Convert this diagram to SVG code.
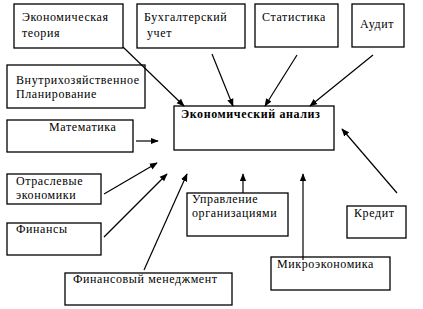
<svg xmlns="http://www.w3.org/2000/svg" width="423" height="309" viewBox="0 0 423 309" font-family="'Liberation Serif', 'DejaVu Serif', serif">
<style>
rect{fill:#fff;stroke:#000;stroke-width:1.3}
text{font-size:12px;fill:#000;letter-spacing:0.6px}
.b{font-weight:bold}
#connectors line{stroke:#000;stroke-width:1.2;marker-end:url(#ah)}
</style>
<defs>
<marker id="ah" viewBox="0 0 10 10" refX="9" refY="5" markerWidth="8" markerHeight="8" markerUnits="userSpaceOnUse" orient="auto">
<path d="M0,1 L10,5 L0,9 Z" fill="#000"/>
</marker>
</defs>
<rect x="0" y="0" width="423" height="309" style="stroke:none"/>
<g id="n-teoria"><rect x="14" y="4" width="109" height="44"/><text x="22" y="21">Экономическая</text><text x="22" y="37">теория</text></g>
<g id="n-buh"><rect x="137" y="4" width="108" height="44"/><text x="144" y="21">Бухгалтерский</text><text x="147" y="37">учет</text></g>
<g id="n-stat"><rect x="255" y="4" width="83" height="43"/><text x="262" y="21">Статистика</text></g>
<g id="n-audit"><rect x="352" y="4" width="52" height="43"/><text x="360" y="28">Аудит</text></g>
<g id="n-plan"><rect x="7" y="65" width="138" height="43"/><text x="16" y="84">Внутрихозяйственное</text><text x="16" y="98">Планирование</text></g>
<g id="n-analiz"><rect x="174" y="106" width="160" height="44"/><text class="b" x="181" y="118">Экономический анализ</text></g>
<g id="n-mat"><rect x="7" y="120" width="126" height="32"/><text x="49" y="131">Математика</text></g>
<g id="n-otr"><rect x="7" y="174" width="94" height="30"/><text x="16" y="185">Отраслевые</text><text x="16" y="199">экономики</text></g>
<g id="n-fin"><rect x="7" y="223" width="94" height="32"/><text x="16" y="233">Финансы</text></g>
<g id="n-finmen"><rect x="65" y="273" width="167" height="32"/><text x="73" y="283">Финансовый менеджмент</text></g>
<g id="n-upr"><rect x="187" y="193" width="101" height="43"/><text x="192" y="203">Управление</text><text x="192" y="217">организациями</text></g>
<g id="n-kred"><rect x="347" y="206" width="59" height="32"/><text x="354" y="217">Кредит</text></g>
<g id="n-micro"><rect x="271" y="257" width="119" height="33"/><text x="277" y="268">Микроэкономика</text></g>
<g id="connectors">
<line x1="123" y1="47" x2="184" y2="106"/>
<line x1="212" y1="54" x2="233" y2="106"/>
<line x1="297" y1="55" x2="265" y2="106"/>
<line x1="373" y1="55" x2="310" y2="106"/>
<line x1="136" y1="141" x2="158" y2="141"/>
<line x1="104" y1="194" x2="157" y2="163"/>
<line x1="104" y1="237" x2="167" y2="174"/>
<line x1="144" y1="270" x2="187" y2="174"/>
<line x1="243" y1="193" x2="243" y2="174"/>
<line x1="303" y1="260" x2="303" y2="174"/>
<line x1="397" y1="193" x2="342" y2="129"/>
</g>
</svg>
